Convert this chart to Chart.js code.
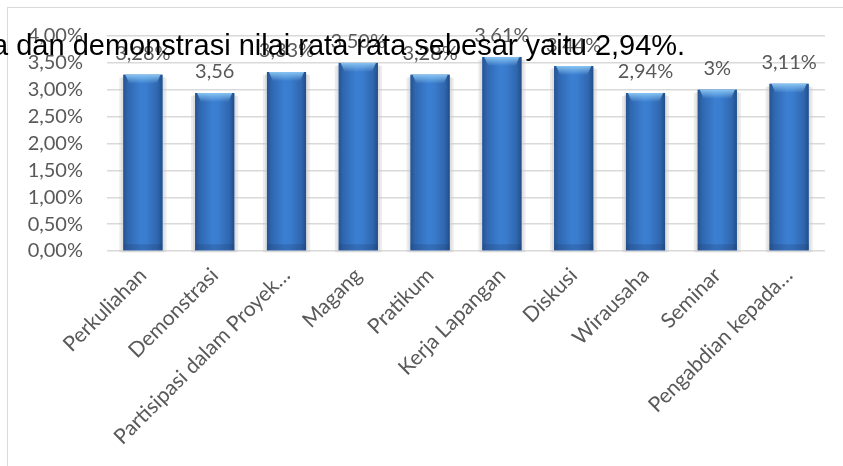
<!DOCTYPE html>
<html lang="id">
<head>
<meta charset="utf-8">
<title>Grafik Metode Pembelajaran</title>
<script src="https://cdn.jsdelivr.net/npm/chart.js@4/dist/chart.umd.min.js"></script>
<style>
    body { margin: 0; background: #fff; }
    #wadah { position: relative; width: 843px; height: 466px; overflow: hidden; }
    #bingkai {
        position: absolute; left: 7px; top: 7px; width: 900px; height: 500px;
        border-left: 1.5px solid #d9d9d9; border-top: 1.5px solid #d9d9d9;
    }
    #grafik { position: absolute; left: 0; top: 0; }
    #teksAtas {
        position: absolute; left: -8px; top: 30.5px; z-index: 2;
        font-family: "Liberation Sans", Arial, sans-serif; font-size: 29px; line-height: 29px;
        color: #000; white-space: nowrap;
    }
</style>
</head>
<body>
<div id="wadah">
    <div id="bingkai"></div>
    <canvas id="grafik" width="843" height="466"></canvas>
    <div id="teksAtas">a dan demonstrasi nilai rata rata sebesar yaitu 2,94%.</div>
</div>
<script>
// Data grafik
const kategori = ['Perkuliahan', 'Demonstrasi', 'Partisipasi dalam Proyek…', 'Magang', 'Pratikum',
    'Kerja Lapangan', 'Diskusi', 'Wirausaha', 'Seminar', 'Pengabdian kepada…'];
const nilai = [3.28, 2.94, 3.33, 3.50, 3.28, 3.61, 3.44, 2.94, 3.00, 3.11];
const labelData = ['3,28%', '3,56', '3,33%', '3,50%', '3,28%', '3,61%', '3,44%', '2,94%', '3%', '3,11%'];
const labelSumbuY = ['0,00%', '0,50%', '1,00%', '1,50%', '2,00%', '2,50%', '3,00%', '3,50%', '4,00%'];

const abu = '#595959';
const garis = '#d9d9d9';

// Bayangan abu-abu di belakang batang + gradasi + label data
const pluginBayangan = {
    id: 'bayangan',
    beforeDatasetsDraw(chart) {
        const ctx = chart.ctx;
        const meta = chart.getDatasetMeta(0);
        ctx.save();
        meta.data.forEach(bar => {
            const kiri = bar.x - bar.width / 2;
            ctx.fillStyle = 'rgba(200, 200, 200, 0.35)';
            ctx.fillRect(kiri - 4, bar.y + 3, bar.width + 8, bar.base - bar.y - 1);
            ctx.fillRect(kiri - 2, bar.y + 2, bar.width + 4, bar.base - bar.y);
        });
        ctx.restore();
    },
    afterDatasetsDraw(chart) {
        const ctx = chart.ctx;
        const meta = chart.getDatasetMeta(0);
        ctx.save();
        meta.data.forEach((bar, i) => {
            const kiri = bar.x - bar.width / 2;
            const lebar = bar.width;
            const tinggi = bar.base - bar.y;

            // gradasi silinder
            const g = ctx.createLinearGradient(kiri, 0, kiri + lebar, 0);
            g.addColorStop(0, '#26538f');
            g.addColorStop(0.12, '#2f67b0');
            g.addColorStop(0.45, '#3b7fd2');
            g.addColorStop(0.6, '#3a7ccd');
            g.addColorStop(0.88, '#2f66ae');
            g.addColorStop(1, '#234d86');
            ctx.fillStyle = g;
            ctx.fillRect(kiri, bar.y, lebar, tinggi);

            // tutup atas lebih terang
            const t = ctx.createLinearGradient(0, bar.y, 0, bar.y + 9);
            t.addColorStop(0, 'rgba(140, 200, 245, 0.95)');
            t.addColorStop(1, 'rgba(140, 200, 245, 0)');
            ctx.fillStyle = t;
            ctx.beginPath();
            ctx.moveTo(kiri + 2, bar.y);
            ctx.lineTo(kiri + lebar - 2, bar.y);
            ctx.lineTo(kiri + lebar - 6, bar.y + 9);
            ctx.lineTo(kiri + 6, bar.y + 9);
            ctx.closePath();
            ctx.fill();

            // bagian bawah sedikit gelap
            ctx.fillStyle = 'rgba(30, 60, 110, 0.25)';
            ctx.fillRect(kiri, bar.base - 6, lebar, 6);

            // label data
            ctx.fillStyle = abu;
            ctx.font = '20px Lato';
            ctx.textAlign = 'center';
            ctx.textBaseline = 'middle';
            ctx.fillText(labelData[i], bar.x, bar.y - 21);
        });
        ctx.restore();
    }
};

const ctx = document.getElementById('grafik').getContext('2d');
new Chart(ctx, {
    type: 'bar',
    data: {
        labels: kategori,
        datasets: [{
            data: nilai,
            backgroundColor: '#3a7bd0',
            borderWidth: 0,
            barPercentage: 0.545,
            categoryPercentage: 1
        }]
    },
    options: {
        responsive: false,
        animation: false,
        layout: { padding: { left: 0, top: 36, right: 18, bottom: 0 } },
        plugins: {
            legend: { display: false },
            tooltip: { enabled: false }
        },
        scales: {
            y: {
                min: 0,
                max: 4,
                ticks: {
                    stepSize: 0.5,
                    autoSkip: false,
                    color: abu,
                    font: { family: 'Lato', size: 20 },
                    padding: 24,
                    callback: (v, i) => labelSumbuY[i]
                },
                grid: { color: garis, lineWidth: 1.5, drawTicks: false },
                border: { display: false },
                afterFit: s => { s.width = 107; }
            },
            x: {
                ticks: {
                    color: abu,
                    font: { family: 'Lato', size: 21 },
                    minRotation: 45,
                    maxRotation: 45,
                    autoSkip: false,
                    padding: 12
                },
                grid: { display: false, drawTicks: false },
                border: { display: false },
                afterFit: s => { s.height = 215; }
            }
        }
    },
    plugins: [pluginBayangan]
});
</script>
</body>
</html>
